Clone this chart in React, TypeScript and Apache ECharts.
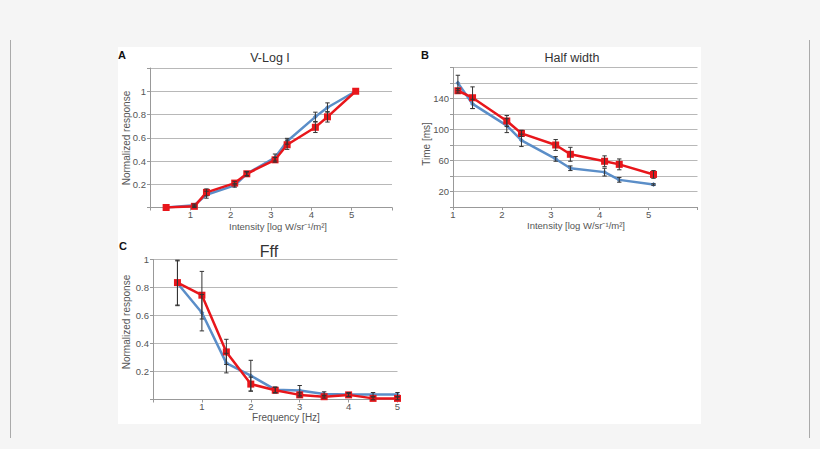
import React, { useEffect, useRef } from "react";
import * as echarts from "echarts";

// Panel A: V-Log I
const A_X = [0.4, 1.1, 1.4, 2.1, 2.4, 3.1, 3.4, 4.1, 4.4, 5.1];
const A_BLUE = [0, 0.02, 0.11, 0.19, 0.29, 0.43, 0.57, 0.78, 0.86, 1.0];
const A_RED = [0, 0.01, 0.13, 0.21, 0.29, 0.41, 0.54, 0.69, 0.78, 1.0];
const A_BLUE_ERR = [0, 0.01, 0.03, 0.015, 0.015, 0.03, 0.025, 0.04, 0.04, 0];
const A_RED_ERR = [0, 0.01, 0.03, 0.015, 0.02, 0.02, 0.04, 0.045, 0.045, 0];

// Panel B: Half width
const B_X = [1.1, 1.4, 2.1, 2.4, 3.1, 3.4, 4.1, 4.4, 5.1];
const B_BLUE = [160, 133, 105, 86, 62, 50, 45, 35, 29];
const B_RED = [150, 141, 111, 95, 80, 68, 59, 55, 42];
const B_BLUE_ERR = [10, 6, 9, 8, 3, 3, 5, 3, 1];
const B_RED_ERR = [3, 14, 7, 4, 7, 9, 7, 7, 5];

// Panel C: Fff
const C_X = [0.5, 1, 1.5, 2, 2.5, 3, 3.5, 4, 4.5, 5];
const C_BLUE = [0.83, 0.62, 0.26, 0.17, 0.07, 0.065, 0.04, 0.035, 0.035, 0.035];
const C_RED = [0.835, 0.745, 0.34, 0.11, 0.066, 0.033, 0.02, 0.033, 0.008, 0.008];
const C_BLUE_ERR = [0.16, 0.13, 0.07, 0.11, 0.02, 0.035, 0.015, 0.015, 0.015, 0.015];
const C_RED_ERR = [0.16, 0.17, 0.09, 0.05, 0.02, 0.015, 0.01, 0.01, 0.01, 0.01];

const A_YLABELS = ["0.2", "0.4", "0.6", "0.8", "1"];
const B_YLABELS = ["20", "60", "100", "140"];
const C_YLABELS = ["0.2", "0.4", "0.6", "0.8", "1"];
const X_LABELS = ["1", "2", "3", "4", "5"];

const BLUE = "#5b8ec8";
const RED = "#e8161b";
const FONT = "'Liberation Sans', Arial, sans-serif";

function pairs(xs: number[], ys: number[]) {
  return xs.map((x, i) => [x, ys[i]]);
}
function errs(xs: number[], ys: number[], es: number[]) {
  return xs
    .map((x, i) => [x, ys[i] - es[i], ys[i] + es[i]])
    .filter((_, i) => es[i] > 0);
}

const errRender = (params: any, api: any) => {
  const x = api.value(0);
  const lo = api.value(1);
  const hi = api.value(2);
  const p1 = api.coord([x, hi]);
  const p2 = api.coord([x, lo]);
  const w = 2.2;
  const st = { stroke: "#333", lineWidth: 1 };
  return {
    type: "group",
    children: [
      { type: "line", shape: { x1: p1[0], y1: p1[1], x2: p2[0], y2: p2[1] }, style: st },
      { type: "line", shape: { x1: p1[0] - w, y1: p1[1], x2: p1[0] + w, y2: p1[1] }, style: st },
      { type: "line", shape: { x1: p2[0] - w, y1: p2[1], x2: p2[0] + w, y2: p2[1] }, style: st },
    ],
  };
};

function xAxis(gridIndex: number, min: number, max: number, margin: number) {
  return {
    type: "value",
    gridIndex,
    min,
    max,
    interval: 1,
    axisLine: { show: true, lineStyle: { color: "#999", width: 1 } },
    axisTick: { show: true, length: 3, lineStyle: { color: "#999" } },
    splitLine: { show: false },
    axisLabel: {
      color: "#555",
      fontSize: 9.5,
      fontFamily: FONT,
      margin,
      formatter: (v: number) => {
        const s = String(v);
        return X_LABELS.indexOf(s) >= 0 ? s : "";
      },
    },
  };
}

function yAxis(gridIndex: number, max: number, interval: number, labels: string[]) {
  return {
    type: "value",
    gridIndex,
    min: 0,
    max,
    interval,
    axisLine: { show: true, lineStyle: { color: "#999", width: 1 } },
    axisTick: { show: true, length: 3, lineStyle: { color: "#999" } },
    splitLine: { show: true, lineStyle: { color: "#b8b8b8", width: 1 } },
    axisLabel: {
      color: "#555",
      fontSize: 9.5,
      fontFamily: FONT,
      margin: 4,
      formatter: (v: number) => {
        const s = String(Math.round(v * 100) / 100);
        return labels.indexOf(s) >= 0 ? s : "";
      },
    },
  };
}

function lineSeries(idx: number, data: number[][], color: string, red: boolean) {
  return {
    type: "line",
    xAxisIndex: idx,
    yAxisIndex: idx,
    data,
    symbol: red ? "rect" : "diamond",
    symbolSize: red ? 7 : 5,
    showSymbol: true,
    lineStyle: { color, width: 2.5 },
    itemStyle: { color },
    z: red ? 4 : 3,
  };
}

function errSeries(idx: number, data: number[][]) {
  return {
    type: "custom",
    xAxisIndex: idx,
    yAxisIndex: idx,
    data,
    renderItem: errRender,
    encode: { x: 0, y: [1, 2] },
    z: 5,
  };
}

function text(x: number, y: number, t: string, font: string, fill: string, rotate = 0) {
  return {
    type: "text",
    x,
    y,
    rotation: rotate,
    style: { text: t, font, fill, align: "center", verticalAlign: "middle" },
    z: 10,
  };
}

export default function App() {
  const ref = useRef<HTMLDivElement>(null);
  useEffect(() => {
    document.body.style.margin = "0";
    const chart = echarts.init(ref.current!, null, { renderer: "svg" });
    const option: any = {
      animation: false,
      backgroundColor: "#f5f5f5",
      grid: [
        { left: 150, top: 68, width: 242, height: 139.5 },
        { left: 453, top: 67.5, width: 244.5, height: 139.5 },
        { left: 153, top: 259.5, width: 244.5, height: 140 },
      ],
      xAxis: [xAxis(0, 0, 6, 2), xAxis(1, 1, 6, 2), xAxis(2, 0, 5, 1.5)],
      yAxis: [yAxis(0, 1.2, 0.2, A_YLABELS), yAxis(1, 180, 20, B_YLABELS), yAxis(2, 1, 0.2, C_YLABELS)],
      graphic: [
        { type: "rect", shape: { x: 118, y: 47, width: 583, height: 377 }, style: { fill: "#ffffff" }, z: -10 },
        { type: "line", shape: { x1: 10.5, y1: 40, x2: 10.5, y2: 438 }, style: { stroke: "#aaa", lineWidth: 1 }, z: -9 },
        { type: "line", shape: { x1: 809.5, y1: 40, x2: 809.5, y2: 438 }, style: { stroke: "#aaa", lineWidth: 1 }, z: -9 },
        text(122, 55, "A", `bold 11px ${FONT}`, "#111"),
        text(425, 55, "B", `bold 11px ${FONT}`, "#111"),
        text(123, 246, "C", `bold 11px ${FONT}`, "#111"),
        text(270, 58, "V-Log I", `12.5px ${FONT}`, "#333"),
        text(572, 58, "Half width", `12.5px ${FONT}`, "#333"),
        text(269, 251, "Fff", `16px ${FONT}`, "#333"),
        text(278, 226.5, "Intensity [log W/sr\u207B\u00B9/m\u00B2]", `9.5px ${FONT}`, "#555"),
        text(576, 225.5, "Intensity [log W/sr\u207B\u00B9/m\u00B2]", `9.5px ${FONT}`, "#555"),
        text(286, 417.5, "Frequency [Hz]", `10px ${FONT}`, "#555"),
        text(126, 138, "Normalized response", `10px ${FONT}`, "#555", Math.PI / 2),
        text(426.5, 144, "Time [ms]", `10px ${FONT}`, "#555", Math.PI / 2),
        text(126, 322, "Normalized response", `10px ${FONT}`, "#555", Math.PI / 2),
      ],
      series: [
        lineSeries(0, pairs(A_X, A_BLUE), BLUE, false),
        lineSeries(0, pairs(A_X, A_RED), RED, true),
        errSeries(0, errs(A_X, A_BLUE, A_BLUE_ERR)),
        errSeries(0, errs(A_X, A_RED, A_RED_ERR)),
        lineSeries(1, pairs(B_X, B_BLUE), BLUE, false),
        lineSeries(1, pairs(B_X, B_RED), RED, true),
        errSeries(1, errs(B_X, B_BLUE, B_BLUE_ERR)),
        errSeries(1, errs(B_X, B_RED, B_RED_ERR)),
        lineSeries(2, pairs(C_X, C_BLUE), BLUE, false),
        lineSeries(2, pairs(C_X, C_RED), RED, true),
        errSeries(2, errs(C_X, C_BLUE, C_BLUE_ERR)),
        errSeries(2, errs(C_X, C_RED, C_RED_ERR)),
      ],
    };
    chart.setOption(option);
    return () => chart.dispose();
  }, []);
  return <div ref={ref} style={{ width: 820, height: 449 }} />;
}
